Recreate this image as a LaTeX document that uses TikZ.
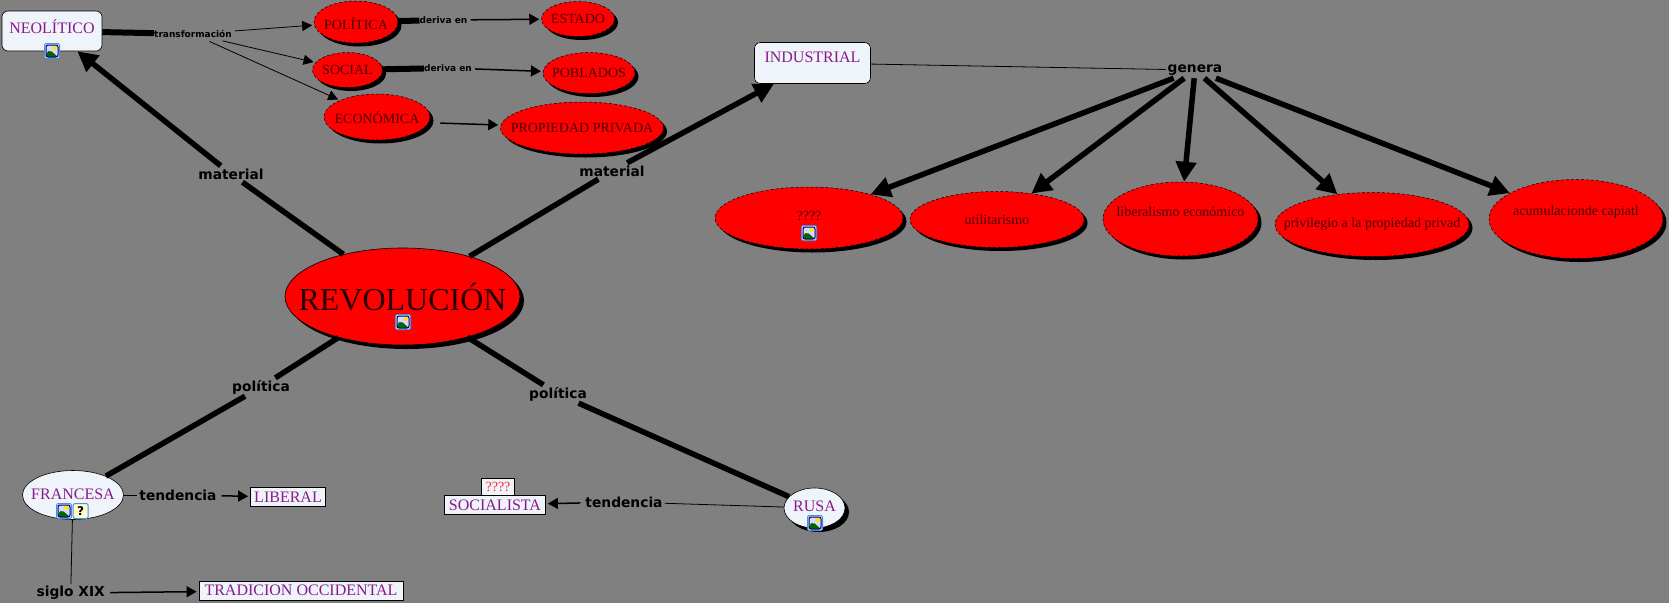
\documentclass[tikz,border=0pt]{standalone}
\usepackage{fontspec}
\setmainfont{Liberation Serif}
\newfontfamily\lblfont{DejaVu Sans}
\usetikzlibrary{positioning, calc, arrows.meta, shapes.geometric, shadows}
\definecolor{bggray}{HTML}{808080}
\definecolor{boxfill}{HTML}{EEF4F9}
\definecolor{conceptpurple}{HTML}{8A1A8A}
\definecolor{redtext}{HTML}{4A0000}
\definecolor{iconblue}{HTML}{4A90E0}
\tikzset{x=1pt,y=-1pt}
\tikzset{redell/.style={ellipse, draw=black, densely dashed, line width=.5pt, fill=red, inner sep=0pt,
  drop shadow={shadow xshift=3.5pt, shadow yshift=-3.5pt, fill=black, opacity=1}}}
\tikzset{redtxt/.style 2 args={label={[text=redtext, font=\fontsize{14}{16}\selectfont, yshift=#1]center:#2}}}
\tikzset{purptxt/.style 2 args={label={[text=conceptpurple, font=\fontsize{16}{18}\selectfont, yshift=#1]center:#2}}}
\tikzset{roundbox/.style={rectangle, rounded corners=6pt, draw=black, line width=.6pt, fill=boxfill, inner sep=0pt}}
\tikzset{squarebox/.style={rectangle, draw=black, line width=.8pt, fill=boxfill, inner sep=0pt, text=conceptpurple, font=\fontsize{16}{18}\selectfont}}
\tikzset{whiteell/.style={ellipse, draw=black, line width=.6pt, fill=boxfill, inner sep=0pt}}
\tikzset{biglabel/.style={rectangle, inner sep=2pt, minimum height=16pt, font=\lblfont\bfseries\fontsize{13.8}{15}\selectfont}}
\tikzset{smalllabel/.style={rectangle, inner xsep=0pt, inner ysep=2pt, minimum height=12pt, font=\lblfont\bfseries\fontsize{9}{11}\selectfont}}
\tikzset{thickline/.style={line width=5.5pt}}
\tikzset{thickarrow/.style={line width=5.5pt, -{Triangle[length=20pt,width=20pt]}}}
\tikzset{barline/.style={line width=6pt}}
\tikzset{thinline/.style={line width=.8pt}}
\tikzset{thinarrow/.style={line width=.8pt, shorten <=3pt, shorten >=2pt, -{Triangle[length=10pt,width=10pt]}}}
\tikzset{midarrow/.style={line width=1.5pt, shorten <=3pt, shorten >=2pt, -{Triangle[length=10pt,width=11pt]}}}
\tikzset{imgicon/.style={rectangle, rounded corners=2pt, draw=iconblue, line width=1pt, fill=white, minimum size=15pt, inner sep=0pt,
  path picture={\begin{scope}[shift={(path picture bounding box.center)}]
    \fill[white!85!blue] (-7,-7) rectangle (7,7);
    \fill[yellow!90!orange] (2.5,-3) circle (2.2);
    \fill[green!40!black] (-6,6) -- (-6,2) -- (-2,-1) -- (6,6) -- cycle;
    \draw[blue!40!black, line width=1pt] (-6,-6) rectangle (6,6);
  \end{scope}}}}
\tikzset{docicon/.style={rectangle, rounded corners=2pt, draw=iconblue, line width=1pt, fill=yellow!20, minimum size=15pt, inner sep=0pt, text=black, font=\lblfont\bfseries\fontsize{12}{12}\selectfont}}
\begin{document}
\begin{tikzpicture}
      \fill[bggray] (0,0) rectangle (1669,603);
      \useasboundingbox (0,0) rectangle (1669,603);

      % top left
      \node[roundbox, minimum width=100pt, minimum height=40pt, purptxt={4pt}{NEOLÍTICO}] (neo) at (52,31) {};
      \node[smalllabel] (transf) at (193,34) {transformación};
      \node[redell, minimum width=84pt, minimum height=42pt, redtxt={-2pt}{POLÍTICA}] (polit) at (356,22) {};
      \node[smalllabel] (deriv1) at (443.5,20) {deriva en};
      \node[redell, minimum width=73pt, minimum height=35pt, redtxt={0pt}{ESTADO}] (estado) at (578,19) {};
      \node[redell, minimum width=70pt, minimum height=35pt, redtxt={0pt}{SOCIAL}] (social) at (347.5,70) {};
      \node[smalllabel] (deriv2) at (448,68) {deriva en};
      \node[redell, minimum width=92pt, minimum height=41pt, redtxt={0pt}{POBLADOS}] (poblad) at (589,73) {};
      \node[redell, minimum width=106pt, minimum height=46pt, redtxt={-1pt}{ECONÓMICA}] (econ) at (377,117) {};
      \node[redell, minimum width=163pt, minimum height=52pt, redtxt={0pt}{PROPIEDAD PRIVADA}] (propied) at (582,128) {};

      % center
      \node[ellipse, draw=black, line width=.6pt, fill=red, inner sep=0pt, minimum width=235pt, minimum height=97pt,
        drop shadow={shadow xshift=4pt, shadow yshift=-4pt, fill=black, opacity=1},
        label={[text=black!85!red, font=\fontsize{32}{36}\selectfont, yshift=0pt]center:REVOLUCIÓN}] (rev) at (402.5,296.5) {};
      \node[biglabel] (matl) at (231,174) {material};
      \node[biglabel] (matr) at (612,171) {material};
      \node[biglabel] (poll) at (261,387) {política};
      \node[biglabel] (polr) at (558,394) {política};

      % top right
      \node[roundbox, minimum width=116pt, minimum height=41pt, purptxt={6pt}{INDUSTRIAL}] (indus) at (812.5,63) {};
      \node[biglabel] (genera) at (1195,70) {genera};
      \node[redell, minimum width=188pt, minimum height=62pt, redtxt={2.5pt}{????}] (unk) at (809,218) {};
      \node[redell, minimum width=174pt, minimum height=56pt, redtxt={0pt}{utilitarismo}] (util) at (997,219.5) {};
      \node[redell, minimum width=155pt, minimum height=74pt, redtxt={7pt}{liberalismo económico}] (liber) at (1180.5,219) {};
      \node[redell, minimum width=194pt, minimum height=64pt, redtxt={0pt}{privilegio a la propiedad privad}] (priv) at (1372,224.5) {};
      \node[redell, minimum width=174pt, minimum height=79pt, redtxt={7pt}{acumulacionde capiatl}] (acum) at (1576,219) {};

      % bottom
      \node[whiteell, minimum width=101pt, minimum height=49pt, purptxt={1pt}{FRANCESA}] (franc) at (73,495) {};
      \node[biglabel] (tendf) at (178,495) {tendencia};
      \node[squarebox, minimum width=75pt, minimum height=19pt] (liberal) at (288,497) {LIBERAL};
      \node[biglabel] (siglo) at (70.7,593) {siglo XIX};
      \node[squarebox, minimum width=204pt, minimum height=19pt] (tradic) at (301,590.5) {TRADICION OCCIDENTAL};
      \node[whiteell, minimum width=61pt, minimum height=40pt, drop shadow={shadow xshift=4pt, shadow yshift=-4pt, fill=black, opacity=1}, purptxt={2pt}{RUSA}] (rusa) at (814.5,508) {};
      \node[biglabel] (tendr) at (624,502) {tendencia};
      \node[squarebox, minimum width=101pt, minimum height=19pt] (socia) at (495,504.8) {SOCIALISTA};
      \node[squarebox, text=red!85!white, minimum width=33pt, minimum height=17pt, font=\fontsize{14}{16}\selectfont] (socq) at (498,486.8) {????};

      % icons
      \node[imgicon] (icneo) at (52,51) {};
      \node[imgicon] (icrev) at (403,322) {};
      \node[imgicon] (icunk) at (809,233) {};
      \node[imgicon] (icfra) at (64,511) {};
      \node[docicon] (icdoc) at (80.7,511) {?};
      \node[imgicon] (icrus) at (815,523) {};

      % links
      \draw[barline] (neo) -- (transf);
      \draw[thinarrow] (transf) -- (polit);
      \draw[thinarrow] (transf) -- (social);
      \draw[thinarrow] (transf) -- (econ);
      \draw[barline] (polit) -- (deriv1);
      \draw[midarrow] (deriv1) -- (estado);
      \draw[barline] (social) -- (deriv2);
      \draw[midarrow] (deriv2) -- (poblad);
      \draw[midarrow] ([xshift=7pt,yshift=-6pt]econ.east) -- ([yshift=3pt]propied.west);

      \draw[thickline] (rev) -- (matl);
      \draw[thickarrow] (matl) -- (neo);
      \draw[thickline] (rev) -- (matr);
      \draw[thickarrow] (matr) -- (indus);
      \draw[thickline] (rev) -- (poll);
      \draw[thickline] (poll) -- (franc);
      \draw[thickline] (rev) -- (polr);
      \draw[thickline] (polr) -- (rusa);

      \draw[thinline] (indus) -- (genera);
      \draw[thickarrow] (genera) -- (unk);
      \draw[thickarrow] (genera) -- (util);
      \draw[thickarrow] (genera) -- (liber);
      \draw[thickarrow] (genera) -- (priv);
      \draw[thickarrow] (genera) -- (acum);

      \draw[thinline] (franc) -- (tendf);
      \draw[midarrow] (tendf) -- (liberal);
      \draw[thinline] (franc) -- (siglo);
      \draw[midarrow] (siglo) -- (tradic);
      \draw[thinline] (rusa) -- (tendr);
      \draw[midarrow] (tendr) -- (socia);
    \end{tikzpicture}
\end{document}
